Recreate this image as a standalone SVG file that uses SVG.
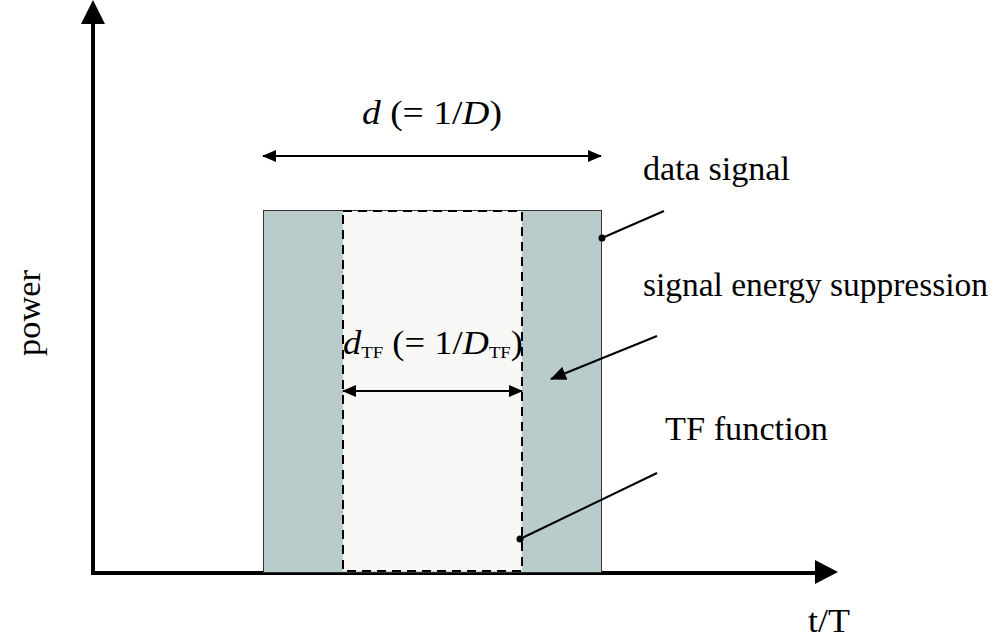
<svg xmlns="http://www.w3.org/2000/svg" width="999" height="644" viewBox="0 0 999 644">
<style>
text{font-family:"Liberation Serif","DejaVu Serif",serif;fill:#000;}
.lbl{font-size:33px;}
.it{font-style:italic;}
.sub{font-size:17px;}
.ln{stroke:#000;stroke-width:2;fill:none;}
</style>
<defs>
<marker id="ah" viewBox="0 0 14 12" refX="13" refY="6" markerWidth="14" markerHeight="12" markerUnits="userSpaceOnUse" orient="auto-start-reverse">
<path d="M0,0 L14,6 L0,12 Z" fill="#000"/>
</marker>
<marker id="ahb" viewBox="0 0 16 14" refX="15" refY="7" markerWidth="16" markerHeight="14" markerUnits="userSpaceOnUse" orient="auto">
<path d="M0,0 L16,7 L0,14 Z" fill="#000"/>
</marker>
</defs>
<g id="axes">
<line x1="93" y1="574" x2="93" y2="24" stroke="#000" stroke-width="4"/>
<path d="M93,0 L105,24 L81,24 Z" fill="#000"/>
<line x1="91" y1="573" x2="815" y2="573" stroke="#000" stroke-width="4"/>
<path d="M838,572 L815,560 L815,584 Z" fill="#000"/>
<text class="lbl" x="829" y="632" text-anchor="middle" textLength="42" lengthAdjust="spacingAndGlyphs">t/T</text>
<text class="lbl" transform="translate(40,313) rotate(-90)" text-anchor="middle" textLength="86" lengthAdjust="spacingAndGlyphs">power</text>
</g>
<g id="data-signal">
<rect x="263.5" y="210.5" width="338" height="362" fill="#b9cbcb" stroke="#333" stroke-width="1"/>
</g>
<g id="tf-function">
<rect x="343" y="211" width="179" height="360" fill="#f8f8f6" stroke="#000" stroke-width="2" stroke-dasharray="9,6"/>
</g>
<g id="labels">
<text class="lbl" x="362" y="124" textLength="140" lengthAdjust="spacingAndGlyphs"><tspan class="it">d</tspan> (= 1/<tspan class="it">D</tspan>)</text>
<text class="lbl" x="343" y="354" textLength="180" lengthAdjust="spacingAndGlyphs"><tspan class="it">d</tspan><tspan class="sub" dy="4">TF</tspan><tspan dy="-4"> (= 1/</tspan><tspan class="it">D</tspan><tspan class="sub" dy="4">TF</tspan><tspan dy="-4">)</tspan></text>
<text class="lbl" x="643" y="180" textLength="147" lengthAdjust="spacingAndGlyphs">data signal</text>
<text class="lbl" x="643" y="296" textLength="345" lengthAdjust="spacingAndGlyphs">signal energy suppression</text>
<text class="lbl" x="665" y="440" textLength="163" lengthAdjust="spacingAndGlyphs">TF function</text>
</g>
<g id="connectors">
<line class="ln" x1="263" y1="156" x2="601" y2="156" marker-start="url(#ah)" marker-end="url(#ah)"/>
<line class="ln" x1="343" y1="391" x2="522" y2="391" marker-start="url(#ah)" marker-end="url(#ah)"/>
<line class="ln" x1="602" y1="238" x2="664" y2="211"/>
<circle cx="602" cy="238" r="3.5" fill="#000"/>
<line class="ln" x1="657" y1="336" x2="551" y2="379" marker-end="url(#ahb)"/>
<line class="ln" x1="520" y1="539" x2="657" y2="473"/>
<circle cx="520" cy="539" r="3.5" fill="#000"/>
</g>
</svg>
